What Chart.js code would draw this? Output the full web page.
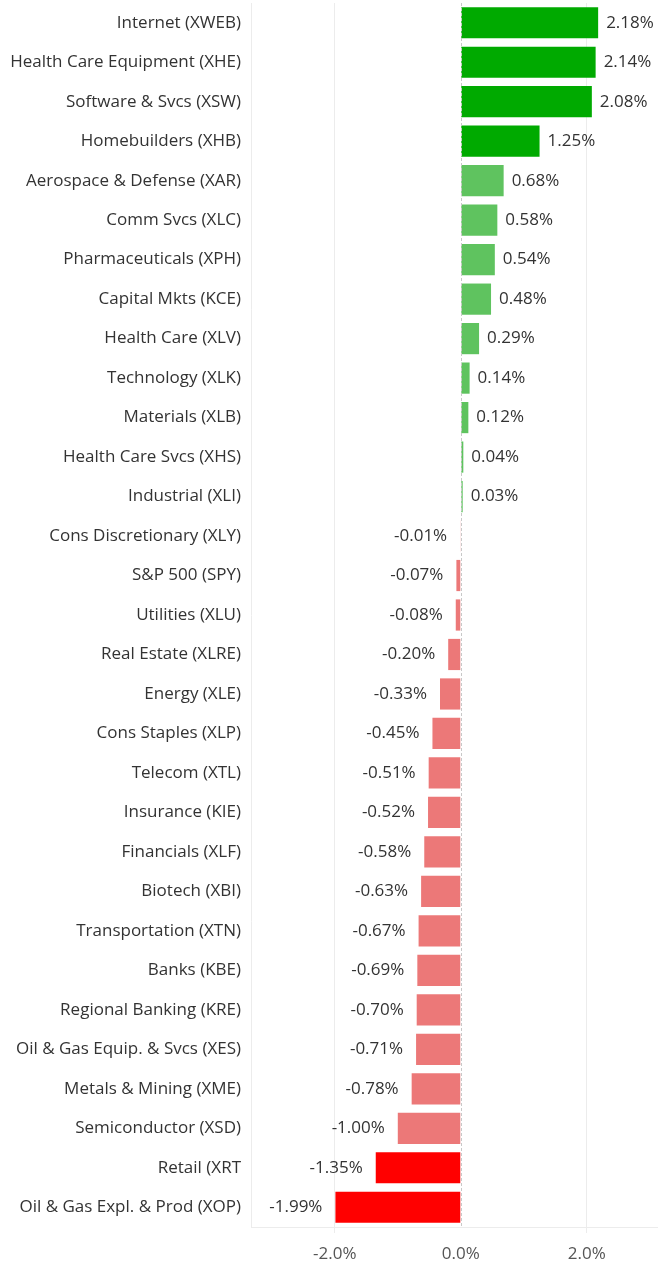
<!DOCTYPE html>
<html>
<head>
<meta charset="utf-8">
<script src="https://cdn.jsdelivr.net/npm/chart.js@4"></script>
<style>
  html, body { margin: 0; padding: 0; background: #fff; }
  #wrap { width: 658px; height: 1263px; position: relative; }
</style>
</head>
<body>
<div id="wrap"><canvas id="sectorChart"></canvas></div>
<script>
// sector ETF daily change, %
const sectors = [
  'Internet (XWEB)', 'Health Care Equipment (XHE)', 'Software & Svcs (XSW)', 'Homebuilders (XHB)',
  'Aerospace & Defense (XAR)', 'Comm Svcs (XLC)', 'Pharmaceuticals (XPH)', 'Capital Mkts (KCE)',
  'Health Care (XLV)', 'Technology (XLK)', 'Materials (XLB)', 'Health Care Svcs (XHS)',
  'Industrial (XLI)', 'Cons Discretionary (XLY)', 'S&P 500 (SPY)', 'Utilities (XLU)',
  'Real Estate (XLRE)', 'Energy (XLE)', 'Cons Staples (XLP)', 'Telecom (XTL)',
  'Insurance (KIE)', 'Financials (XLF)', 'Biotech (XBI)', 'Transportation (XTN)',
  'Banks (KBE)', 'Regional Banking (KRE)', 'Oil & Gas Equip. & Svcs (XES)', 'Metals & Mining (XME)',
  'Semiconductor (XSD)', 'Retail (XRT', 'Oil & Gas Expl. & Prod (XOP)'
];
const changes = [
  2.18, 2.14, 2.08, 1.25, 0.68, 0.58, 0.54, 0.48, 0.29, 0.14, 0.12, 0.04, 0.03,
  -0.01, -0.07, -0.08, -0.20, -0.33, -0.45, -0.51, -0.52, -0.58, -0.63, -0.67,
  -0.69, -0.70, -0.71, -0.78, -1.00, -1.35, -1.99
];
const xTicks = [-2, 0, 2];

const FONT = '"Open Sans", "DejaVu Sans", sans-serif';

function barColor(v) {
  if (v >= 1) return '#00aa00';
  if (v > 0) return '#5fc35f';
  if (v > -1.2) return '#ec7878';
  return '#ff0000';
}

// value labels next to bar ends + dashed zero line
const valueLabels = {
  id: 'valueLabels',
  afterDatasetsDraw(chart) {
    const ctx = chart.ctx;
    const x = chart.scales.x;
    const area = chart.chartArea;
    const zx = Math.round(x.getPixelForValue(0)) + 0.5;
    ctx.save();
    ctx.strokeStyle = '#c8c8c8';
    ctx.lineWidth = 1;
    ctx.setLineDash([3, 2]);
    ctx.beginPath();
    ctx.moveTo(zx, area.top);
    ctx.lineTo(zx, area.bottom);
    ctx.stroke();
    ctx.setLineDash([]);

    ctx.font = '17px ' + FONT;
    ctx.fillStyle = '#333';
    ctx.textBaseline = 'middle';
    const meta = chart.getDatasetMeta(0);
    meta.data.forEach((bar, i) => {
      const v = changes[i];
      const txt = v.toFixed(2) + '%';
      if (v >= 0) {
        ctx.textAlign = 'left';
        ctx.fillText(txt, bar.x + 8, bar.y);
      } else {
        ctx.textAlign = 'right';
        ctx.fillText(txt, bar.x - 13, bar.y);
      }
    });
    ctx.restore();
  }
};

const gridCol = c => c.tick && c.tick.value === 0 ? 'rgba(0,0,0,0)' : '#ececec';

const ctx = document.getElementById('sectorChart').getContext('2d');
new Chart(ctx, {
  type: 'bar',
  data: {
    labels: sectors,
    datasets: [{
      data: changes,
      backgroundColor: changes.map(barColor),
      borderWidth: 0,
      categoryPercentage: 0.79,
      barPercentage: 1.0
    }]
  },
  options: {
    indexAxis: 'y',
    responsive: true,
    maintainAspectRatio: false,
    animation: false,
    layout: { padding: { top: 3, right: 0, left: 0, bottom: 0 } },
    plugins: {
      legend: { display: false },
      tooltip: { enabled: false }
    },
    scales: {
      x: {
        min: -3.33,
        max: 3.13,
        afterFit(scale) {
          scale.height = 36;
          scale.paddingLeft = 0;
          scale.paddingRight = 0;
        },
        afterBuildTicks(scale) { scale.ticks = xTicks.map(v => ({ value: v })); },
        ticks: {
          callback: v => v.toFixed(1) + '%',
          color: '#555',
          font: { family: FONT, size: 17 },
          padding: 11
        },
        grid: {
          color: gridCol,
          tickColor: gridCol,
          drawTicks: true,
          tickLength: 6
        },
        border: { color: '#ececec' }
      },
      y: {
        afterFit(scale) {
          scale.width = 251;
          scale.paddingTop = 0;
          scale.paddingBottom = 0;
        },
        ticks: {
          color: '#333',
          font: { family: FONT, size: 17 },
          padding: 10,
          autoSkip: false
        },
        grid: { display: false, drawTicks: false },
        border: { color: '#ececec' }
      }
    }
  },
  plugins: [valueLabels]
});
</script>
</body>
</html>
